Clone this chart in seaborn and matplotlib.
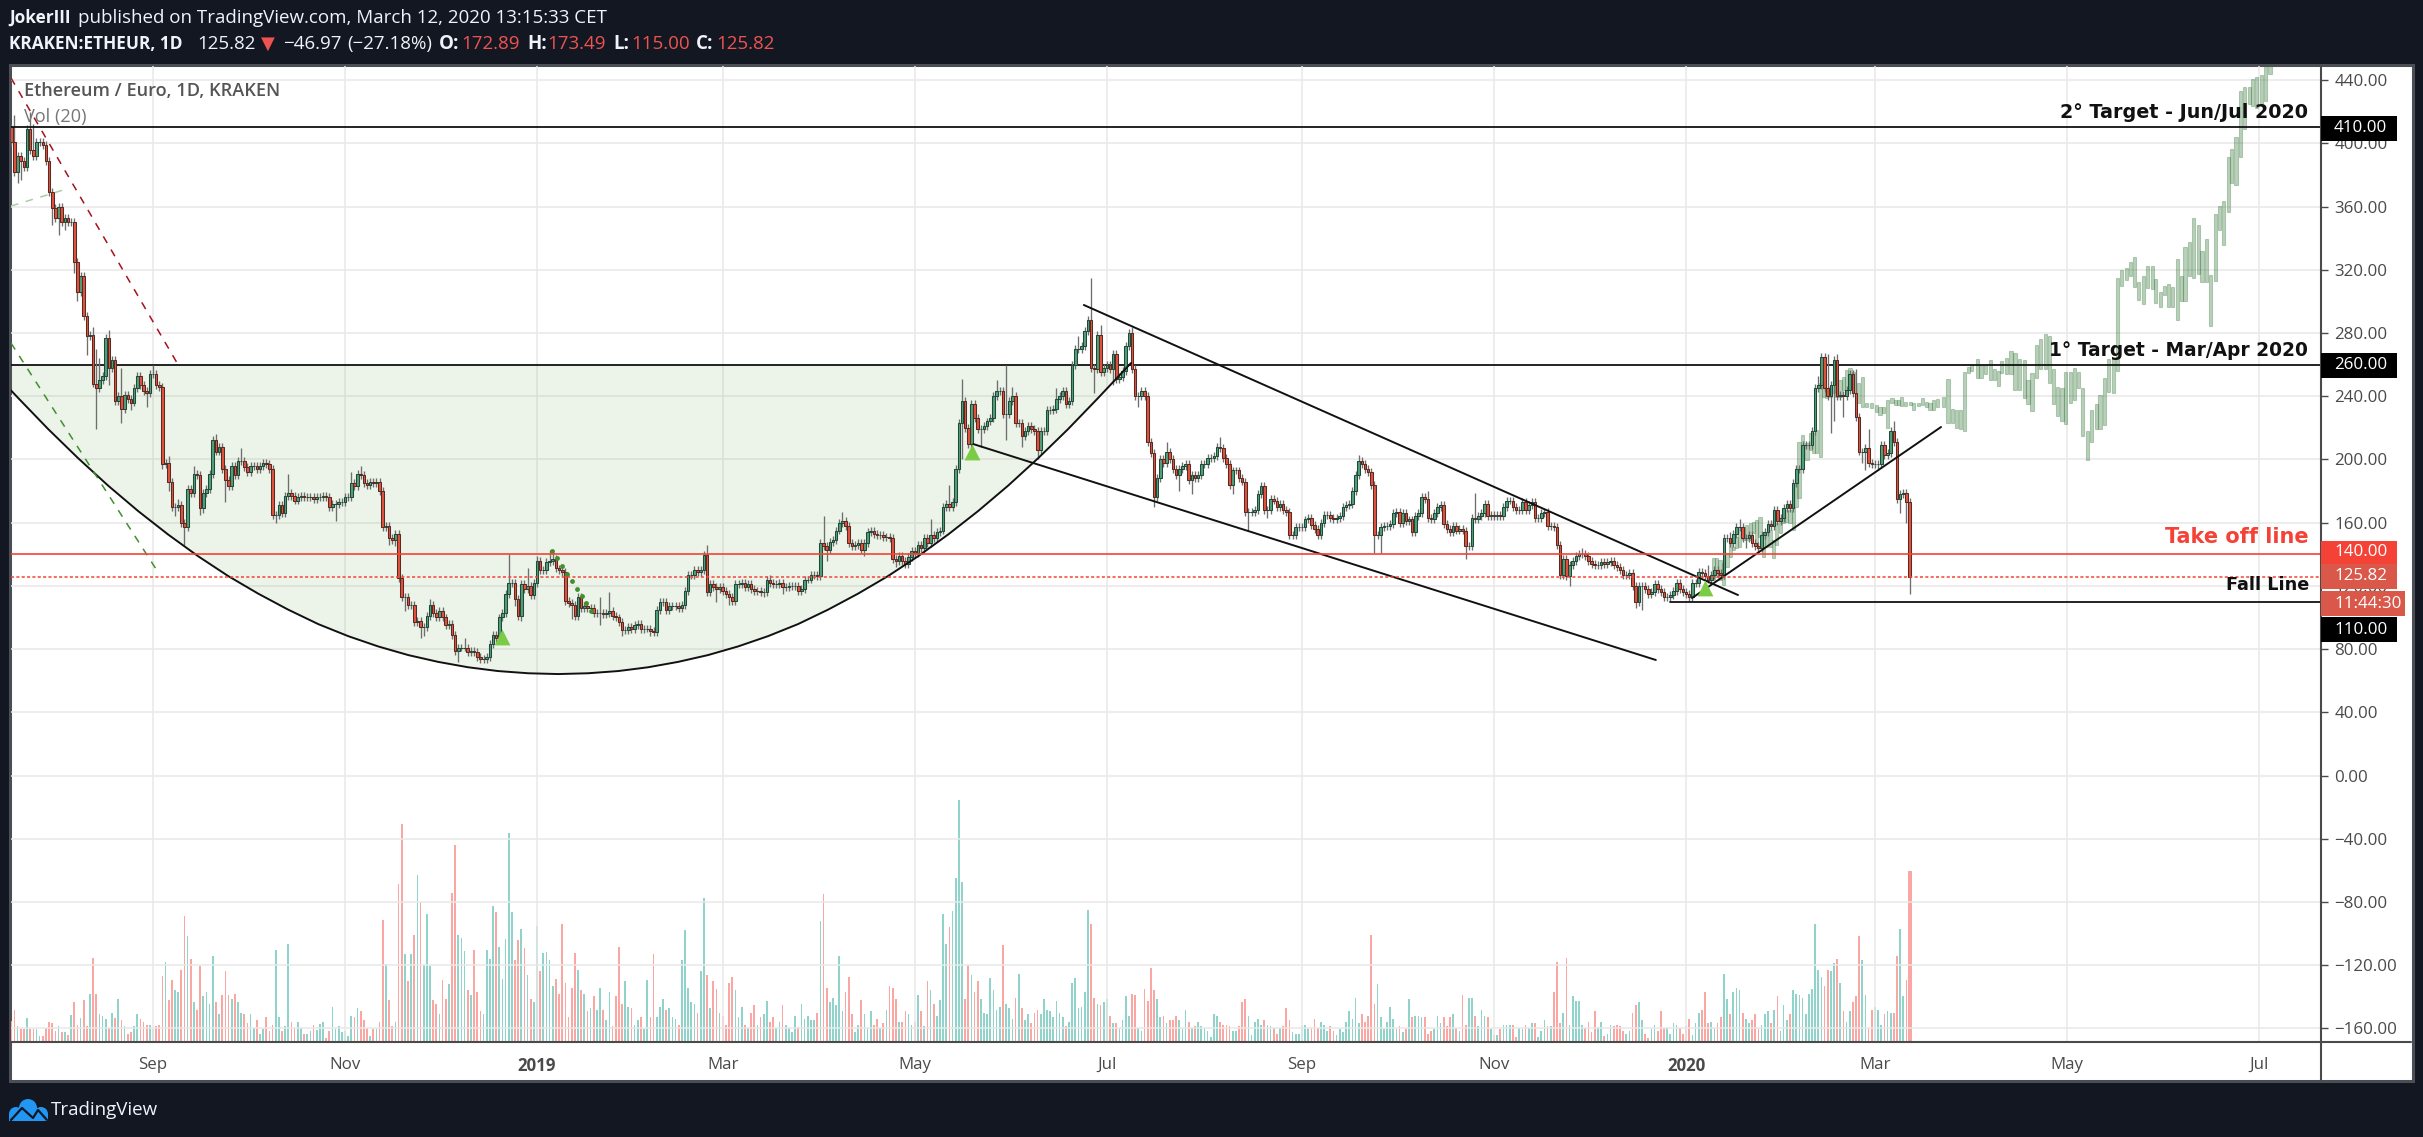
import numpy as np
import pandas as pd
import matplotlib
matplotlib.use("Agg")
import matplotlib.pyplot as plt
from matplotlib.patches import Rectangle, Circle
import seaborn as sns

# ---------------- DATA (x = days since 1 Sep 2018) ----------------
first_open = 410
close_aug18 = [401,382,392,389,385,409,396,392,401,401,
399,389,369,359,353,360,350,353,350,350,
325,306,316,291,278,279,248,245,250,253,
277,258,263,237,240,232,241,238,236,245,
253,247,243,242,254]
close_sep18 = [254,247,246,197,198,186,170,170,171,160,
157,181,179,191,190,169,179,181,191,212,
205,208,194,187,183,196,190,199,199,195,
192,196,196,194,196,198,197,194,165,165,
171,166,177,179,177,174,176,177,176,176,
176,175,176,176,177,176,170,172,172,173,173]
close_nov18 = [176,176,185,183,191,190,185,184,186,185,
186,180,157,158,150,149,153,125,113,113,
108,108,97,98,94,94,101,108,103,100,
104,100,95,96,89,79,81,81,81,78,
79,78,75,74,74,75,83,89,87,100,
103,115,122,122,112,101,121,118,120,114,122]
close_jan19 = [136,130,130,135,136,137,131,130,129,110.6,
109,108,101,113,106,107,106,106,103,103,
103,102,103,104,101,100,97,92,92,94,
92.5,95,96,92.5,93,93,91.6,91,105,110,
110,105,107,107,107,106,108,117,127,127,
130,129,130,139.5,116,121,119,118,119]
close_mar19 = [117,115,113,110.5,121,121,122,119,121,118,
117,117,116,116,124,122,121,121,122,119,
119,120,120,120,117,118,124,124,127,127,
126,147,145,143,148,149,155,160,161,158,
147,145,146,147,143,147,154,155,153,152,
152,151,151,150,137,136,139,136,134,138,142]
close_may19 = [141,146,144,150,147,152,150,154,155,170,
172,170,173,194,223,237,220,210,235,226,
219,219,221,224,226,240,243,243,229,229,
237,240,223,223,215,218,221,219,218,206,
218,218,231,231,232,238,240,243,235,237,
260,270,270,272,281,288,258,257,279,255,258]
close_jul19 = [260,257,267,251,252,256,272,280,257,240,
240,243,240,211,204,176,188,200,198,205,
200,194,190,194,196,197,187,190,188,190,
197,197,201,201,202,208,207,201,197,184,
193,193,188,186,167,167,167,168,178,183,
168,168,175,174,170,172,168,167,152,152,157,157]
close_sep19 = [157,162,163,158.5,156,152,160,165,165,163,
162,163,164,170,171,172,180,190,199,197,
194,192,184,152,152,157,158,158,159,166,
167,160,166,161,162,154,164,166,176,175,
163,162,166,170,171,159,156,154,158,155,
156,155,145,145,163,162,164,166,172,164,165]
close_nov19 = [164,165,164,170,174,174,170,168,168,173,
168,171,173,163,163,166,167,158,158,157,
146,127,137,126,133,136,139,140,140,139,
136,134,133,133,135,134,135,136,133,132,
130,127,127,128,120,110,120,120,118,115,
116,121,118,116,113,113,114,117,122,118,116]
close_jan20 = [115,113,122,122,129,128,126,124,127,130,
128,127,150,150,147,153,157,157,150,150,
152,147,145,144,152,154,159,158,168,161,
163,169,172,169,185,194,194,209,209,209,
218,245,247,265,245,240,247,263,240,241,
240,244,254,242,227,205,205,207,198,197]
close_mar20 = [197,197,209,203,204,218,211,175,178,179,173,125.82]

wick_high = {-44:418,-39:420,-38:412,-19:284,-18:270,-17:264,-14:282,-10:258,-5:255,0:260,
5:202,8:175,13:196,20:216,28:207,43:191,63:192,66:196,88:112,99:87,113:140,119:131,122:139,
126:143,127:143,142:113,145:116,176:146,187:124,196:127,212:147,213:164,219:167,247:162,
253:184,257:251,268:250,271:260,273:246,287:245,290:246,294:278,296:282,298:315,301:285,
311:284,322:211,339:214,383:203,405:180,420:179,454:144,485:124,494:133,501:154,504:162,
519:174,529:253,532:267,535:267,541:257,545:219,553:224,558:173.49}
wick_low = {-43:375,-42:377,-37:395,-32:348,-30:342,-28:345,-25:318,-24:300,-21:266,-18:219,
-14:247,-10:223,-7:231,-2:233,3:194,5:180,7:164,10:146,15:165,16:166,23:173,25:182,39:160,
58:161,75:146,77:145,80:104,85:87,86:88,97:72,105:72,115:107,117:98,133:99,142:95,149:88,
158:88,179:110,183:108,194:113,200:115,214:136,226:139,236:132,257:200,263:208,271:212,
276:208,281:200,299:242,305:247,313:233,318:170,326:180,330:178,343:178,348:155,354:163,
361:150,388:140.5,390:140.5,417:137,447:126,450:120,471:106,473:105,506:144,533:217,534:224,
537:227,543:198,544:193,548:193,555:166,557:160,558:115}

volume_a = [21,32,16,13,13,24,13,13,13,6,
6,14,20,19,11,16,10,10,7,27,
40,17,24,42,16,48,84,48,28,26,
23,14,29,24,43,22,16,8,10,16,
28,23,20,17,17,13,16,17,66,80,
42,62,52,50,72,126,106,83,40,32,
76,46,50,38,86,40,28,47,71,47,
43,48,40,29,28,19,28,14,22,8,
13,25,11,17,92,25,11,16,98,20,
14,20,14,8,8,11,17,12,18,20,
4,11,35,13,16,10,11,6,26,25,
34,31,22,14,6,13,13,20,122,78,
42,16,20,158,218,88,61,88,107,167,
140,77,128,76,42,38,28,62,43,58,
149,197,107,104,91,52,47,92,50,31,
28,92,83,136,130,95,63,103,209,130,
82,102,113,94,67,43,40,116,71,89,
90,82,56,63,48,118,59,25,54,89,
72,52,48,31,34,46,32,54,32,22,
50,16,46,95,38,61,35,34,17,22,
25,13,62,25,88,25,35,43,32,34,
25,23,17,82,112,54,40,38,29,71,
144,67,34,61,53,29,26,17,59,65,
52,25,35,17,14,29,37,17,25,28,
41,20,25,14,20,37,17,14,10,26,15]
volume_b = [38,23,26,22,22,29,121,148,54,40,
44,37,86,31,50,65,28,10,17,42,
28,14,31,17,23,14,19,32,56,54,
43,20,20,31,28,17,20,47,31,16,
61,52,38,26,42,128,98,115,131,164,
242,160,43,77,67,50,61,43,29,28,
64,52,32,35,97,38,34,23,44,68,
34,22,28,19,29,32,28,43,32,31,
25,41,29,25,16,20,59,64,34,35,
50,132,118,44,38,37,40,43,26,19,
19,13,22,46,26,48,47,14,11,53,
41,74,52,43,25,26,19,22,22,26,
22,13,32,20,14,16,20,16,14,11,
5,28,26,20,17,17,16,11,11,16,
40,43,26,7,20,23,17,22,17,16,
14,8,14,16,34,22,10,8,8,16,
17,14,14,23,14,20,17,11,16,11,
7,13,10,20,31,23,44,19,28,20,
26,107,38,58,25,13,20,35,23,13,
16,10,13,43,25,26,26,25,25,8,
11,13,26,19,25,16,25,28,14,11,
47,17,44,44,26,16,32,26,25,13,
7,7,13,17,17,17,17,5,14,13,
17,14,19,19,5,11,22,16,16,50,
80,19,29,84,17,46,41,41,17,14,
20,10,31,15]
volume_c = [20,6,8,17,16,17,16,11,8,11,
29,37,40,22,8,4,13,17,11,31,
14,14,8,19,17,14,8,16,23,7,
19,29,32,50,19,20,14,19,25,68,
43,28,50,54,52,29,23,19,22,28,
13,17,28,31,19,32,46,11,37,22,
28,52,48,47,44,28,48,53,118,72,
65,56,72,71,79,83,59,31,20,31,
40,46,106,82,47,14,32,35,32,17,
28,31,29,29,86,113,46,62,171]

ghost_days = [495.7,496.8,497.8,498.9,500,501,502,503,504,505.2,506.3,507.4,508.4,509.5,510.5,511.6,512.6,513.7,514.8,515.8,
516.9,517.9,519,520,521.1,522.2,522.9,524,525.4,526.4,527.5,528.5,529.6,530.6,531.7,532.8,533.8,534.9,535.9,537,
538,539.1,540.2,541.8,543,544.4,546,547.6,548.6,549.7,551,552.4,553.4,554.5,555.5,556.6,558.2,559.2,560.8,562.2,
563.5,564.5,565.6,566.9,568.8,570.2,571.6,573,574.3,575.4,576.7,577.8,579.6,580.7,582,583.6,585,586.2,587.3,588.7,
590.2,591.5,592.9,594.4,595.6,596.9,598.2,599.5,601.1,602.4,603.7,605,606.4,607.6,609,610.3,611.6,613,614.5,615.9,
617.3,618.5,619.8,621.2,622.8,624,625.4,627,628.1,629.4,630.8,632.3,633.7,635.2,636,637.6,638.9,640.2,641.6,643.1,
644.3,645.5,646.9,648.3,649.8,650.9,652.2,653.6,655.1,656.4,657.7,659.3,660.4,661.7,663,664.4,665.9,667,668.3,669.9,671.2,672.5]
ghost_top = [137.4,137.4,136.3,134.2,140.5,146.9,144.8,151.1,157.4,157.4,158.5,159.5,160.6,161.6,163.7,153.2,153.2,155.3,149,159.5,
161.6,165.8,167.9,167.9,170,184.8,211.2,215.4,210.1,216.4,216.4,218.6,248.1,246,244.9,246,247,248.1,250.2,252.3,
256.5,257.6,255.5,248.1,252.3,235.4,235.8,234.4,233.3,233.3,237.5,238.6,237.5,237.5,239.6,236.5,236.5,235.4,235.8,238.6,
236.5,235.4,237.5,238,239.6,251,232.1,231.4,231.4,255,258.4,259.7,263.6,259.7,259.7,262.8,257,255.7,262.3,264.4,
268.3,267.6,263.6,262.8,250.5,254.4,272.3,275.9,279.4,278,257,246,245.3,255,255,257.6,255,245.3,217.7,231.4,
234.8,240.8,251.8,263.6,263.6,314.8,320,321.3,325.2,327.9,312.1,316.1,322.1,322.1,314.2,305.6,310,310.8,309,327.1,
316.1,334.4,337.8,352.8,348.1,331.8,339.7,316.6,355.4,360.1,363.3,391.3,396.1,403.9,432.8,435.4,435.4,440.6,442,443.3,448.5,453.8]
ghost_bottom = [123.7,125.8,123.7,120.5,132.1,138.4,142.6,143.7,144.8,149,149,149,153.2,146.9,151.1,138.4,144.8,144.8,137.4,145.8,
153.2,159.5,160.6,159.5,155.3,170,175.3,194.3,199.6,205.9,203.8,203.8,201.7,239.6,238.6,239.6,241.8,239.6,239.6,243.9,
241.8,244.9,241.8,235.4,233.3,232.9,232.3,230.2,228,229.1,219.6,235.4,234.4,234.4,233.7,233.7,234.4,231.2,233.7,234.4,
233.3,231.2,231.2,232.9,233.3,223,223,219.8,219,217.7,254.4,255.7,251.8,251.8,253.9,250.5,250.5,246.6,254.4,253.9,
253.9,244,244,238.7,234.8,230.8,251.8,257,257,248.4,234.8,227.7,224.3,222.4,236,237.4,245.3,215.1,199.9,211.2,
219,219,221.7,242.6,241.8,255.7,309.5,313.4,316.1,309,300.9,298.5,308.2,307.7,299,296.4,304.3,296.4,296.4,288,
300.3,300.3,316.1,314.8,317.4,312.1,312.1,284.6,312.7,344.9,335.7,356.7,375.1,373.8,391.3,409.2,424.9,423.6,422.3,424.9,427,443.8]

arc_days = [-53.3,-42.8,-33.3,-23.8,-14.3,-4.7,4.8,14.3,23.9,33.4,42.9,52.5,62,71.5,81.1,90.6,100.1,109.6,119.2,128.7,
138.2,147.8,157.3,166.8,176.3,185.9,195.4,204.9,214.5,224,233.5,243.1,252.6,262.1,271.7,281.2,290.7,300.2,310.7]
arc_prices = [261,238.8,219.2,200.8,183.5,167.3,152.5,138.8,126.2,115.1,105,95.8,88.2,81.7,76.2,71.9,68.5,66.1,64.7,64.2,
64.7,66.1,68.5,71.9,76.2,81.7,88.2,95.8,105,115.1,126.2,138.8,152.5,167.3,183.5,200.8,219.2,238.8,261]

wedge_top_days, wedge_top_prices = [295.7,503.5], [297.7,114.2]
wedge_low_days, wedge_low_prices = [260.6,477.4], [209.7,73.1]
rise_days, rise_prices = [488.9,568], [112.3,220.5]
red_dash_days, red_dash_prices = [-45.1,8.6], [441.3,257.8]
pale_dash_days, pale_dash_prices = [-45.1,-27.6], [360.3,371]
green_dash_days, green_dash_prices = [-45.1,1.6], [273.6,128.7]
dot_days = [126.7,128.4,130,131.5,133,134.6,136.2,137.5,139.1]
dot_prices = [142.2,137.6,132.7,127.7,123,118.2,113.8,109,104.3]
signal_days, signal_prices = [110.9,260.2,493], [87.6,204.7,118.6]

price_ticks = [440,400,360,320,280,240,200,160,120,80,40,0,-40,-80,-120,-160]
date_ticks = [0,61,122,181,242,303,365,426,487,547,608,669]
date_labels = ["Sep","Nov","2019","Mar","May","Jul","Sep","Nov","2020","Mar","May","Jul"]
levels = [410,260,140,125.82,110]

# ---------------- DERIVED TABLES ----------------
closes = np.array(close_aug18+close_sep18+close_nov18+close_jan19+close_mar19+close_may19+
                  close_jul19+close_sep19+close_nov19+close_jan20+close_mar20, dtype=float)
days = np.arange(len(closes)) - 45
opens = np.r_[first_open, closes[:-1]]
opens[-1] = 172.89
tops = np.maximum(opens, closes); bottoms = np.minimum(opens, closes)
highs = np.array([max(t+2.5, wick_high.get(d, 0)) for d, t in zip(days, tops)])
lows = np.array([min(b-2.5, wick_low.get(d, 9999)) for d, b in zip(days, bottoms)])
up = closes >= opens
vol = np.array(volume_a+volume_b+volume_c, dtype=float)
frame = pd.DataFrame({"day": days, "volume": vol, "dir": np.where(up, "up", "down")})

# ---------------- FIGURE ----------------
sns.set_theme(style="white")
plt.rcParams["font.family"] = ["Open Sans", "DejaVu Sans"]
W, H = 2423, 1137
BG, FRAME, TXT = "#131722", "#4c4e55", "#4a4a4a"
RED = "#f44336"
fig = plt.figure(figsize=(W/100, H/100), dpi=100, facecolor=BG)

bg = fig.add_axes([0, 0, 1, 1], zorder=0); bg.set_xlim(0, W); bg.set_ylim(H, 0); bg.axis("off")
bg.add_patch(Rectangle((10, 65), 2402.5, 1016, facecolor="white", edgecolor=FRAME, linewidth=2.2))

ax = fig.add_axes([11/W, 1-1041.7/H, (2320.7-11)/W, (1041.7-66)/H], zorder=2)
ax.patch.set_alpha(0)
vx = ax.twinx()
vx.set_zorder(1)
VUP, VDN = "#8fd3cb", "#faa6a2"
sns.barplot(data=frame, x="day", y="volume", hue="dir", palette={"up": VUP, "down": VDN},
            native_scale=True, dodge=False, width=0.54, saturation=1, errorbar=None, legend=False,
            linewidth=0, ax=vx)
vx.bar(days[-1], vol[-1], width=1.25, color=VDN, linewidth=0)
vx.set_ylim(0, 975.7); vx.yaxis.set_visible(False); vx.set_xlabel(""); vx.set_ylabel("")
for s in vx.spines.values(): s.set_visible(False)
ax.set_zorder(2)

ax.set_axisbelow(True)
ax.grid(True, color="#e8e8e8", linewidth=1.1)
ax.fill_between(arc_days, arc_prices, 260, color="#5a9a3a", alpha=0.115, linewidth=0, zorder=1)
sns.lineplot(x=arc_days, y=arc_prices, color="#111111", linewidth=1.4, estimator=None, errorbar=None, ax=ax, zorder=4)

gt, gb = np.array(ghost_top), np.array(ghost_bottom)
ax.bar(ghost_days, gt-gb, bottom=gb, width=1.0, facecolor=(0.18, 0.45, 0.2, 0.33),
       edgecolor=(0.18, 0.45, 0.2, 0.3), linewidth=0.8, zorder=2)

ax.vlines(days, lows, highs, color="#6e6e6e", linewidth=0.95, zorder=3)
ax.bar(days[up], (tops-bottoms)[up], bottom=bottoms[up], width=0.82, color="#529f7c", edgecolor="#1f4a38", linewidth=0.75, zorder=3.2)
ax.bar(days[~up], (tops-bottoms)[~up], bottom=bottoms[~up], width=0.82, color="#e0533f", edgecolor="#5a2a20", linewidth=0.75, zorder=3.2)

for xs, ys in [(wedge_top_days, wedge_top_prices), (wedge_low_days, wedge_low_prices), (rise_days, rise_prices)]:
    sns.lineplot(x=xs, y=ys, color="#111111", linewidth=1.4, estimator=None, errorbar=None, ax=ax, zorder=4)
ax.plot(red_dash_days, red_dash_prices, color="#a5121a", linewidth=1.1, ls=(0, (5, 5)), zorder=4)
ax.plot(pale_dash_days, pale_dash_prices, color="#a9cfa3", linewidth=1.1, ls=(0, (5, 5)), zorder=4)
ax.plot(green_dash_days, green_dash_prices, color="#3f8f2f", linewidth=1.1, ls=(0, (5, 5)), zorder=4)
ax.scatter(dot_days, dot_prices, s=12, color="#3f8f2f", linewidth=0, zorder=4)
ax.scatter(signal_days, signal_prices, s=130, marker="^", color="#7ccb45", linewidth=0, zorder=4.5)

ax.axhline(levels[0], color="#111111", linewidth=1.3, zorder=4)
ax.axhline(levels[1], color="#111111", linewidth=1.3, zorder=2.8)
ax.axhline(levels[2], color=RED, linewidth=1.2, zorder=4)
ax.axhline(levels[3], color=RED, linewidth=1.1, ls=(0, (2, 1.5)), zorder=4)
ax.plot([482, 690], [levels[4], levels[4]], color="#111111", linewidth=1.3, zorder=4)

ax.set_xlim(-45.1, 688.6); ax.set_ylim(-168.4, 448.9)
ax.yaxis.tick_right()
ax.set_yticks(price_ticks)
ax.set_yticklabels([f"{v:.2f}".replace("-", "\u2212") for v in price_ticks])
ax.set_xticks(date_ticks); ax.set_xticklabels(date_labels)
ax.tick_params(axis="y", length=5, width=1, color=TXT, labelcolor=TXT, labelsize=12.2, pad=5)
ax.tick_params(axis="x", length=4, width=1, color=TXT, labelcolor=TXT, labelsize=12.2, pad=7)
for lab in ax.get_xticklabels():
    if lab.get_text() in ("2019", "2020"): lab.set_fontweight("bold")
for s in ax.spines.values(): s.set_visible(False)

ov = fig.add_axes([0, 0, 1, 1], zorder=5); ov.set_xlim(0, W); ov.set_ylim(H, 0); ov.axis("off")
ov.plot([11, 2411], [1041.7, 1041.7], color=TXT, linewidth=1.5, zorder=1)
ov.plot([2320.7, 2320.7], [66, 1080], color=TXT, linewidth=1.5, zorder=1)

def t(x, y, s, **kw):
    kw.setdefault("va", "center"); kw.setdefault("ha", "left")
    return ov.text(x, y, s, **kw)

# header
WH = "#f0f3fa"; HR = "#ef5350"
FS = 13.5; FB = 12.4
t(9, 18, "JokerIII", color=WH, fontsize=FB, fontweight="bold")
t(78, 18, "published on TradingView.com, March 12, 2020 13:15:33 CET", color=WH, fontsize=FS)
t(9, 44, "KRAKEN:ETHEUR, 1D", color=WH, fontsize=FB, fontweight="bold")
t(197, 44, "125.82", color=WH, fontsize=FS)
t(261, 44, "\u25bc", color=HR, fontsize=13, family=["DejaVu Sans"])
t(283, 44, "\u221246.97", color=WH, fontsize=FS)
t(347, 44, "(\u221227.18%)", color=WH, fontsize=FS)
for x, s, xv, v in [(439, "O:", 461, "172.89"), (527, "H:", 547, "173.49"), (613, "L:", 631, "115.00"), (696, "C:", 716, "125.82")]:
    t(x, 44, s, color=WH, fontsize=FS, fontweight="bold")
    t(xv, 44, v, color=HR, fontsize=FS)

# legends in chart
t(23.5, 91, "Ethereum / Euro, 1D, KRAKEN", color="#555555", fontsize=13.1, fontweight="semibold")
t(23.5, 117, "Vol (20)", color="#777777", fontsize=13.1)

# level annotations
DV = ["DejaVu Sans"]
t(2308, 113, "2\u00b0 Target - Jun/Jul 2020", ha="right", color="#111111", fontsize=13.8, fontweight="bold", family=DV)
t(2308, 350, "1\u00b0 Target - Mar/Apr 2020", ha="right", color="#111111", fontsize=13.4, fontweight="bold", family=DV)
t(2309, 537, "Take off line", ha="right", color=RED, fontsize=15, fontweight="bold", family=DV)
t(2309, 585, "Fall Line", ha="right", color="#111111", fontsize=12.7, fontweight="bold", family=DV)

# axis labels boxes
for y0, y1, xr, c, s in [(115.5, 141, 2396.7, "#000000", "410.00"), (352.5, 377.5, 2396.7, "#000000", "260.00"),
                         (541, 564, 2396.7, RED, "140.00"), (564, 589, 2396.7, "#d9584a", "125.82"),
                         (591, 616, 2405, "#d9584a", "11:44:30"), (617, 642, 2396.7, "#000000", "110.00")]:
    ov.add_patch(Rectangle((2320.7, y0), xr-2320.7, y1-y0, facecolor=c, edgecolor="none", zorder=3))
    t(2334, (y0+y1)/2, s, color="white", fontsize=12.2, zorder=4)

# footer
LOGO = "#2196f3"
for (cx, cy, r) in [(28, 1108, 9), (16, 1114, 7), (41, 1114, 7)]:
    ov.add_patch(Circle((cx, cy), r, facecolor=LOGO, edgecolor="none"))
ov.add_patch(Rectangle((9, 1114), 39, 7, facecolor=LOGO, edgecolor="none"))
ov.plot([11, 22, 33, 38, 47], [1120, 1108, 1118, 1110, 1120], color=BG, linewidth=1.6)
t(51, 1110, "TradingView", color=WH, fontsize=FS)

fig.savefig("out.png", dpi=100, facecolor=BG)
